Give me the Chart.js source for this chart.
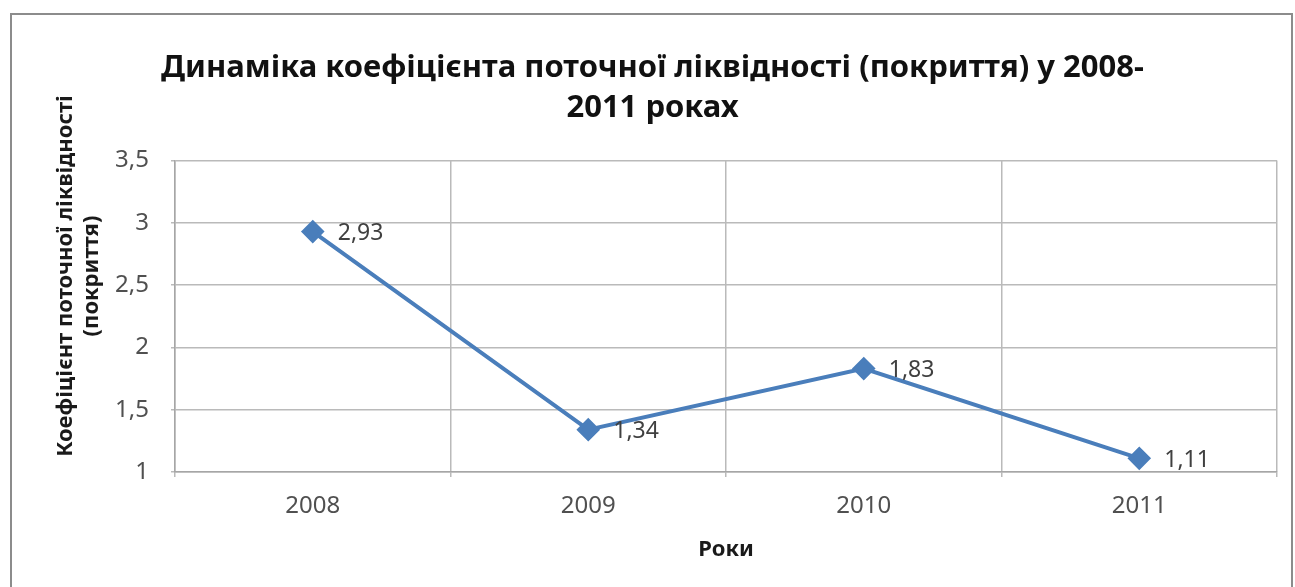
<!DOCTYPE html>
<html>
<head>
<meta charset="utf-8">
<script src="https://cdn.jsdelivr.net/npm/chart.js@4.4.0/dist/chart.umd.min.js"></script>
<style>
  html, body { margin: 0; padding: 0; background: #fff; }
  #wrap { position: absolute; left: 0; top: 0; width: 1295px; height: 587px; }
</style>
</head>
<body>
<div id="wrap"><canvas id="chart"></canvas></div>
<script>
// data
const years = ["2008", "2009", "2010", "2011"];
const ratio = [2.93, 1.34, 1.83, 1.11];
const yMin = 1;
const yMax = 3.5;
const yStep = 0.5;

const titleLines = ["Динаміка коефіцієнта поточної ліквідності (покриття) у 2008-", "2011 роках"];
const yTitleLines = ["Коефіцієнт поточної ліквідності", "(покриття)"];
const xTitle = "Роки";

const FONT = "'Noto Sans', 'Open Sans', sans-serif";
const lineColor = "#4a7ebb";

function comma(v) {
  return String(v).replace(".", ",");
}

// outer frame + white background
const framePlugin = {
  id: "frame",
  beforeDraw(chart) {
    const ctx = chart.ctx;
    ctx.save();
    ctx.fillStyle = "#fff";
    ctx.fillRect(0, 0, chart.width, chart.height);
    ctx.strokeStyle = "#8c8c8c";
    ctx.lineWidth = 2;
    ctx.strokeRect(11, 14, 1281, 620);
    ctx.restore();
  }
};

// rotated y title, sits a bit higher than the plot center like the original
const yTitlePlugin = {
  id: "yTitle",
  afterDraw(chart) {
    const ctx = chart.ctx;
    ctx.save();
    ctx.fillStyle = "#1a1a1a";
    ctx.font = "bold 22px " + FONT;
    ctx.textAlign = "center";
    ctx.textBaseline = "middle";
    const xs = [66, 92];
    yTitleLines.forEach((t, i) => {
      ctx.save();
      ctx.translate(xs[i], 276);
      ctx.rotate(-Math.PI / 2);
      ctx.fillText(t, 0, 0);
      ctx.restore();
    });
    ctx.restore();
  }
};

// value labels right of each marker
const labelPlugin = {
  id: "valueLabels",
  afterDatasetsDraw(chart) {
    const ctx = chart.ctx;
    const meta = chart.getDatasetMeta(0);
    ctx.save();
    ctx.fillStyle = "#404040";
    ctx.font = "23px " + FONT;
    ctx.textAlign = "left";
    ctx.textBaseline = "middle";
    meta.data.forEach((pt, i) => {
      ctx.fillText(comma(ratio[i]), pt.x + 25, pt.y + 2);
    });
    ctx.restore();
  }
};

new Chart(document.getElementById("chart"), {
  type: "line",
  data: {
    labels: years,
    datasets: [{
      data: ratio,
      borderColor: lineColor,
      backgroundColor: lineColor,
      borderWidth: 4,
      pointStyle: "rectRot",
      pointRadius: 9,
      pointHoverRadius: 9,
      tension: 0
    }]
  },
  options: {
    responsive: true,
    maintainAspectRatio: false,
    animation: false,
    events: [],
    layout: { padding: { left: 28, right: 18, top: 0, bottom: 0 } },
    plugins: {
      legend: { display: false },
      tooltip: { enabled: false },
      title: {
        display: true,
        text: titleLines,
        color: "#111",
        font: { family: FONT, size: 31, weight: "bold", lineHeight: 1.3 },
        padding: { top: 48, bottom: 32 }
      }
    },
    scales: {
      x: {
        offset: true,
        grid: { offset: true, color: "#bababa", lineWidth: 1.5, tickLength: 5 },
        border: { color: "#a6a6a6", width: 1.5 },
        ticks: { color: "#505050", font: { family: FONT, size: 24 }, padding: 15 },
        title: {
          display: true,
          text: xTitle,
          color: "#1a1a1a",
          font: { family: FONT, size: 22, weight: "bold", lineHeight: 1.2 },
          padding: { top: 0, bottom: 24 }
        },
        afterFit(scale) { scale.height = 115; }
      },
      y: {
        min: yMin,
        max: yMax,
        grid: { color: "#bababa", lineWidth: 1.5, tickLength: 4 },
        border: { color: "#a6a6a6", width: 1.5 },
        ticks: {
          stepSize: yStep,
          color: "#505050",
          font: { family: FONT, size: 24 },
          padding: 22,
          callback: (v) => comma(v)
        },
        afterFit(scale) { scale.width = 147; }
      }
    }
  },
  plugins: [framePlugin, yTitlePlugin, labelPlugin]
});
</script>
</body>
</html>
